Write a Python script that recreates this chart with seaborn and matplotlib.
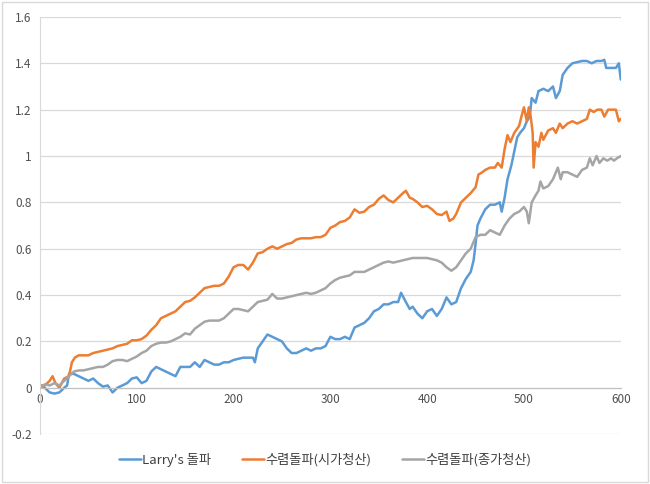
import numpy as np
import pandas as pd
import seaborn as sns
import matplotlib
matplotlib.use('Agg')
import matplotlib.pyplot as plt
from matplotlib.ticker import FuncFormatter
from matplotlib.patches import Rectangle

# 데이터
larry_x = [0, 5, 10, 15, 20, 25, 28, 30, 35, 40, 45, 50, 55, 60, 65, 70, 75, 80, 85, 90, 95, 100,
           105, 110, 115, 120, 125, 130, 135, 140, 145, 150, 155, 160, 165, 170, 175, 180, 185,
           190, 195, 200, 205, 210, 215, 220, 222, 225, 230, 235, 240, 245, 250, 255, 260, 265,
           270, 275, 280, 285, 290, 295, 300, 305, 310, 315, 320, 325, 330, 335, 340, 345, 350,
           355, 360, 365, 370, 373, 378, 382, 385, 390, 395, 400, 405, 410, 415, 420, 425, 430,
           435, 440, 445, 448, 450, 452, 455, 460, 465, 470, 475, 477, 480, 483, 487, 490, 493,
           496, 500, 503, 506, 508, 512, 515, 520, 525, 530, 533, 537, 540, 545, 550, 555, 560,
           565, 570, 575, 580, 583, 585, 590, 595, 598, 600]
larry_y = [0.01, 0.0, -0.02, -0.025, -0.02, 0.0, 0.01, 0.06, 0.06, 0.05, 0.04, 0.03, 0.04, 0.02,
           0.005, 0.01, -0.02, 0.0, 0.01, 0.02, 0.04, 0.045, 0.02, 0.03, 0.07, 0.09, 0.08, 0.07,
           0.06, 0.05, 0.09, 0.09, 0.09, 0.11, 0.09, 0.12, 0.11, 0.10, 0.10, 0.11, 0.11, 0.12,
           0.125, 0.13, 0.13, 0.13, 0.11, 0.17, 0.20, 0.23, 0.22, 0.21, 0.20, 0.17, 0.15, 0.15,
           0.16, 0.17, 0.16, 0.17, 0.17, 0.18, 0.22, 0.21, 0.21, 0.22, 0.21, 0.26, 0.27, 0.28,
           0.30, 0.33, 0.34, 0.36, 0.36, 0.37, 0.37, 0.41, 0.37, 0.34, 0.35, 0.32, 0.30, 0.33,
           0.34, 0.31, 0.34, 0.39, 0.36, 0.37, 0.43, 0.47, 0.50, 0.55, 0.62, 0.70, 0.73, 0.77,
           0.79, 0.79, 0.80, 0.76, 0.82, 0.90, 0.96, 1.02, 1.08, 1.10, 1.12, 1.15, 1.17, 1.25,
           1.23, 1.28, 1.29, 1.28, 1.30, 1.25, 1.28, 1.35, 1.38, 1.40, 1.405, 1.41, 1.41, 1.40,
           1.41, 1.41, 1.415, 1.38, 1.38, 1.38, 1.40, 1.33]

open_x = [0, 5, 10, 13, 16, 20, 25, 30, 33, 36, 40, 45, 50, 55, 60, 65, 70, 75, 80, 85, 90, 95,
          100, 105, 110, 115, 120, 125, 130, 135, 140, 145, 150, 155, 160, 165, 170, 175, 180,
          185, 190, 195, 200, 205, 210, 215, 220, 225, 230, 235, 240, 245, 250, 255, 260, 265,
          270, 275, 280, 285, 290, 295, 300, 305, 310, 315, 320, 325, 330, 335, 340, 345, 350,
          355, 360, 365, 370, 375, 378, 382, 385, 390, 395, 400, 405, 410, 415, 420, 423, 427,
          430, 435, 440, 445, 450, 453, 457, 460, 465, 470, 473, 477, 480, 483, 486, 490, 495,
          498, 500, 503, 505, 507, 509, 510, 512, 515, 518, 520, 525, 530, 533, 537, 540, 545,
          550, 555, 560, 565, 568, 572, 576, 580, 583, 587, 592, 595, 598, 600]
open_y = [0.01, 0.01, 0.03, 0.05, 0.02, 0.0, 0.04, 0.05, 0.11, 0.13, 0.14, 0.14, 0.14, 0.15,
          0.155, 0.16, 0.165, 0.17, 0.18, 0.185, 0.19, 0.205, 0.205, 0.21, 0.225, 0.25, 0.27,
          0.30, 0.31, 0.32, 0.33, 0.35, 0.37, 0.375, 0.39, 0.41, 0.43, 0.435, 0.44, 0.44, 0.45,
          0.48, 0.52, 0.53, 0.53, 0.51, 0.54, 0.58, 0.585, 0.60, 0.61, 0.60, 0.61, 0.62, 0.625,
          0.64, 0.645, 0.645, 0.645, 0.65, 0.65, 0.66, 0.69, 0.70, 0.715, 0.72, 0.735, 0.77,
          0.755, 0.76, 0.78, 0.79, 0.815, 0.83, 0.81, 0.80, 0.82, 0.84, 0.85, 0.82, 0.815, 0.80,
          0.78, 0.785, 0.77, 0.75, 0.745, 0.76, 0.72, 0.73, 0.75, 0.80, 0.82, 0.84, 0.865, 0.92,
          0.93, 0.94, 0.95, 0.95, 0.97, 0.95, 1.03, 1.09, 1.06, 1.10, 1.13, 1.18, 1.21, 1.15,
          1.21, 1.17, 1.10, 0.95, 1.06, 1.04, 1.10, 1.07, 1.11, 1.12, 1.10, 1.14, 1.12, 1.14,
          1.15, 1.14, 1.15, 1.16, 1.20, 1.19, 1.20, 1.20, 1.17, 1.20, 1.20, 1.20, 1.15, 1.16]

close_x = [0, 5, 10, 15, 20, 25, 30, 35, 40, 45, 50, 55, 60, 65, 70, 75, 80, 85, 90, 95, 100,
           105, 110, 115, 120, 125, 130, 135, 140, 145, 150, 155, 160, 165, 170, 175, 180, 185,
           190, 195, 200, 205, 210, 215, 220, 225, 230, 235, 240, 245, 250, 255, 260, 265, 270,
           275, 280, 285, 290, 295, 300, 305, 310, 315, 320, 325, 330, 335, 340, 345, 350, 355,
           360, 365, 370, 375, 380, 385, 390, 395, 400, 405, 410, 415, 420, 425, 430, 435, 440,
           445, 450, 455, 460, 465, 470, 475, 480, 485, 490, 495, 500, 503, 505, 508, 512, 515,
           517, 520, 525, 530, 535, 538, 540, 545, 550, 555, 560, 565, 568, 571, 575, 578, 582,
           586, 590, 593, 596, 600]
close_y = [0.0, 0.015, 0.01, 0.02, 0.01, 0.03, 0.05, 0.07, 0.075, 0.075, 0.08, 0.085, 0.09,
           0.09, 0.10, 0.115, 0.12, 0.12, 0.115, 0.125, 0.135, 0.15, 0.16, 0.18, 0.19, 0.195,
           0.195, 0.20, 0.21, 0.22, 0.235, 0.23, 0.255, 0.27, 0.285, 0.29, 0.29, 0.29, 0.30,
           0.32, 0.34, 0.34, 0.335, 0.33, 0.35, 0.37, 0.375, 0.38, 0.405, 0.385, 0.385, 0.39,
           0.395, 0.40, 0.405, 0.41, 0.405, 0.41, 0.42, 0.43, 0.45, 0.465, 0.475, 0.48, 0.485,
           0.50, 0.50, 0.50, 0.51, 0.52, 0.53, 0.54, 0.545, 0.54, 0.545, 0.55, 0.555, 0.56,
           0.56, 0.56, 0.56, 0.555, 0.55, 0.54, 0.52, 0.505, 0.52, 0.55, 0.58, 0.60, 0.65, 0.66,
           0.66, 0.68, 0.67, 0.66, 0.70, 0.73, 0.75, 0.76, 0.78, 0.76, 0.71, 0.80, 0.83, 0.85,
           0.89, 0.86, 0.87, 0.90, 0.95, 0.90, 0.93, 0.93, 0.92, 0.91, 0.94, 0.95, 0.99, 0.96,
           1.00, 0.97, 0.99, 0.98, 0.99, 0.98, 0.99, 1.00]

labels = ["Larry's 돌파", "수렴돌파(시가청산)", "수렴돌파(종가청산)"]
colors = ['#5B9BD5', '#ED7D31', '#A5A5A5']

sns.set_style('white')
plt.rcParams['font.family'] = ['Noto Sans CJK KR', 'DejaVu Sans']
plt.rcParams['axes.unicode_minus'] = False

fig = plt.figure(figsize=(6.5, 4.84), dpi=100)
ax = fig.add_axes([0.0615, 0.103, 0.8935, 0.862])

series = [(larry_x, larry_y), (open_x, open_y), (close_x, close_y)]
for (xs, ys), lab, c in zip(series, labels, colors):
    sns.lineplot(x=xs, y=ys, ax=ax, color=c, label=lab, linewidth=1.8)

ax.set_xlim(0, 600)
ax.set_ylim(-0.2, 1.6)
ax.set_xticks(np.arange(0, 601, 100))
ax.set_yticks(np.arange(-0.2, 1.61, 0.2))
ax.yaxis.set_major_formatter(FuncFormatter(lambda v, p: '%g' % round(v, 1)))
ax.grid(axis='y', color='#d9d9d9', linewidth=0.9)
ax.grid(axis='x', visible=False)
ax.set_axisbelow(True)

for s in ['top', 'right']:
    ax.spines[s].set_visible(False)
ax.spines['left'].set_color('#d9d9d9')
ax.spines['bottom'].set_position(('data', 0))
ax.spines['bottom'].set_color('#bfbfbf')
ax.tick_params(axis='both', length=0, labelsize=8.5, labelcolor='#505050')
ax.tick_params(axis='x', pad=4)
ax.tick_params(axis='y', pad=6)

ax.legend(loc='center', bbox_to_anchor=(0.5, 0.05), bbox_transform=fig.transFigure,
          ncol=3, frameon=False, fontsize=9.5, handlelength=1.7, handletextpad=0.1,
          columnspacing=2.3, labelcolor='#404040')

fig.patches.append(Rectangle((0.003, 0.004), 0.994, 0.992, transform=fig.transFigure,
                             fill=False, edgecolor='#d9d9d9', linewidth=1))

fig.savefig('out.png', dpi=100)
